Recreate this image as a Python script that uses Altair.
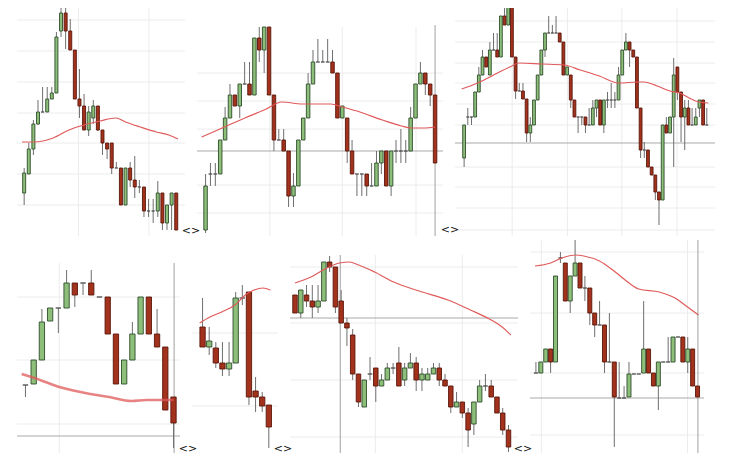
import altair as alt
import pandas as pd

# ---------------- Panel 1 ----------------
p1_open  = [40, 59, 84, 109, 121, 121, 134, 140, 202, 220, 202, 183, 134, 127, 103, 115, 127, 103, 90, 90, 65, 65, 28, 65, 53, 46, 46, 22, 22, 22, 40, 10, 28, 40]
p1_high  = [65, 90, 113, 133, 146, 146, 146, 201, 226, 226, 214, 183, 164, 139, 127, 133, 127, 103, 90, 90, 71, 65, 65, 71, 77, 53, 46, 34, 34, 52, 40, 28, 40, 40]
p1_low   = [28, 59, 78, 108, 121, 121, 134, 140, 196, 184, 183, 134, 115, 103, 97, 109, 102, 78, 74, 59, 65, 28, 28, 46, 35, 40, 16, 16, 10, 16, 3, 3, 3, 3]
p1_close = [60, 84, 109, 121, 121, 134, 140, 196, 220, 202, 183, 134, 127, 103, 121, 127, 103, 90, 84, 65, 65, 28, 65, 53, 46, 46, 22, 22, 22, 40, 10, 28, 40, 3]
p1_ma_i  = [0.53, 3.18, 7.27, 10.7, 14.0, 17.5, 20.9, 23.0, 26.2, 29.7, 32.4, 34.4]
p1_ma_v  = [91, 91, 95, 103, 108, 112, 115, 111, 106, 101, 98, 94]
p1_hgrid = [213, 182, 151, 120, 90, 59, 28]
p1_vgrid = [12.78, 28.08]

# ---------------- Panel 2 ----------------
p2_open  = [3, 59, 59, 59, 93, 115, 138, 127, 149, 149, 138, 195, 183, 206, 138, 93, 93, 82, 37, 47, 93, 115, 149, 171, 171, 171, 171, 160, 115, 115, 82, 59, 59, 59, 47, 47, 70, 82, 47, 82, 82, 82, 82, 115, 149, 160, 149, 138]
p2_high  = [59, 70, 70, 93, 126, 149, 138, 149, 171, 171, 195, 206, 206, 206, 138, 104, 104, 82, 60, 93, 115, 160, 183, 194, 183, 194, 183, 160, 127, 115, 93, 59, 59, 59, 70, 82, 82, 82, 82, 93, 104, 93, 126, 149, 171, 160, 149, 138]
p2_low   = [0, 47, 47, 59, 93, 115, 127, 115, 149, 138, 138, 171, 160, 138, 82, 93, 82, 26, 26, 47, 93, 115, 149, 171, 171, 171, 160, 115, 115, 70, 59, 37, 37, 37, 47, 47, 59, 47, 37, 70, 70, 70, 82, 115, 149, 138, 127, 70]
p2_close = [47, 59, 59, 93, 115, 138, 127, 149, 149, 138, 195, 183, 206, 138, 93, 93, 82, 37, 47, 93, 115, 149, 171, 171, 171, 171, 160, 115, 127, 82, 59, 59, 59, 47, 47, 70, 82, 47, 82, 82, 82, 82, 115, 149, 160, 149, 138, 70]
p2_ma_i  = [0.21, 4.4, 9.05, 13.0, 16.6, 20.8, 26.7, 29.0, 32.6, 37.2, 41.1, 43.1, 45.7, 48.0]
p2_ma_v  = [96, 105, 115, 123, 131, 129, 129, 126, 121, 113, 107, 105, 105, 106]
p2_hgrid = [160, 132, 104, 48, 20]
p2_vgrid = [14.16, 29.0, 44.1]
p2_ref_h = [82]
p2_ref_v = [48.0]

# ---------------- Panel 3 ----------------
p3_open  = [75, 116, 116, 116, 141, 158, 176, 158, 183, 183, 176, 217, 208, 226, 176, 142, 142, 134, 100, 108, 133, 158, 183, 200, 200, 200, 200, 191, 158, 158, 133, 116, 116, 116, 108, 108, 125, 133, 108, 133, 133, 133, 133, 158, 183, 191, 183, 176, 125, 83, 83, 66, 58, 41, 33, 108, 100, 116, 166, 141, 116, 125, 108, 108, 125, 133, 108]
p3_high  = [108, 125, 116, 141, 166, 183, 176, 191, 200, 200, 217, 225, 226, 226, 176, 150, 150, 134, 116, 133, 158, 183, 200, 217, 208, 217, 200, 191, 166, 158, 133, 116, 116, 116, 125, 133, 133, 133, 133, 141, 150, 141, 166, 183, 200, 191, 183, 176, 125, 91, 83, 66, 58, 41, 108, 116, 116, 175, 166, 141, 133, 133, 125, 125, 133, 133, 125]
p3_low   = [66, 108, 108, 116, 141, 158, 166, 158, 183, 176, 176, 208, 208, 176, 134, 142, 134, 91, 91, 108, 133, 158, 176, 200, 200, 200, 191, 158, 158, 125, 116, 100, 108, 100, 108, 108, 116, 108, 100, 125, 125, 125, 133, 158, 183, 166, 176, 125, 75, 75, 66, 58, 33, 8, 33, 100, 100, 66, 133, 91, 83, 108, 108, 108, 116, 108, 108]
p3_close = [108, 116, 116, 141, 158, 176, 166, 183, 183, 176, 217, 208, 226, 176, 142, 142, 134, 100, 108, 133, 158, 183, 200, 200, 200, 200, 191, 158, 166, 133, 116, 116, 116, 108, 108, 125, 133, 108, 133, 133, 133, 133, 158, 183, 191, 183, 176, 125, 83, 83, 66, 58, 41, 33, 108, 100, 116, 158, 141, 116, 125, 108, 108, 116, 133, 108, 108]
p3_ma_i  = [0.32, 4.66, 9.03, 13.4, 16.0, 22.1, 28.2, 32.6, 37.8, 43.0, 48.3, 50.0, 53.5, 57.0, 59.6, 62.2, 64.8, 67.4]
p3_ma_v  = [144, 150, 158, 166, 170, 169, 168, 163, 157, 150, 151, 151, 147, 142, 140, 135, 131, 130]
p3_hgrid = [212, 191, 170, 150, 129, 108, 66, 46, 25, 3]
p3_vgrid = [14.07, 29.09, 43.89, 58.9]
p3_ref_h = [90]

# ---------------- Panel 4 ----------------
p4_open  = [68, 69, 93, 132, 145, 145, 170, 170, 170, 156, 156, 119, 69, 93, 119, 156, 119, 106, 56]
p4_high  = [68, 93, 144, 145, 145, 183, 170, 170, 183, 156, 156, 119, 93, 131, 156, 156, 144, 106, 56]
p4_low   = [56, 69, 93, 132, 120, 145, 146, 158, 158, 156, 119, 69, 69, 93, 119, 119, 106, 43, 5]
p4_close = [68, 93, 131, 145, 145, 170, 158, 170, 158, 156, 119, 69, 93, 119, 156, 119, 106, 43, 30]
p4_ma_i  = [0.54, 2.44, 5.11, 8.91, 11.2, 13.85, 15.76, 17.67, 19.0]
p4_ma_v  = [79, 74, 66, 59, 56, 52, 53, 53, 53]
p4_hgrid = [156, 93, 29]
p4_vgrid = [5.11]
p4_ref_h = [17]
p4_ref_v = [19.07]

# ---------------- Panel 5 ----------------
p5_open  = [126, 106, 105, 90, 84, 90, 155, 161, 62, 56, 48]
p5_high  = [155, 126, 111, 111, 111, 161, 168, 161, 76, 61, 48]
p5_low   = [106, 98, 85, 77, 77, 90, 148, 48, 41, 41, 5]
p5_close = [106, 112, 90, 84, 90, 155, 155, 56, 56, 47, 26]
p5_ma_i  = [0.56, 2.12, 3.89, 5.89, 7.45, 8.79, 10.12, 11.23]
p5_ma_v  = [130, 136, 141, 148, 158, 163, 165, 163]
p5_hgrid = [120, 47]

# ---------------- Panel 6 ----------------
p6_open  = [158, 140, 158, 152, 146, 152, 191, 186, 152, 130, 118, 79, 46, 79, 85, 67, 73, 85, 90, 73, 85, 90, 73, 73, 79, 85, 73, 67, 46, 51, 40, 29, 51, 67, 67, 56, 40, 23]
p6_high  = [158, 163, 168, 168, 168, 191, 197, 186, 163, 135, 124, 79, 73, 96, 85, 79, 90, 90, 106, 90, 100, 96, 85, 85, 90, 90, 79, 67, 61, 51, 45, 51, 73, 79, 73, 56, 45, 28]
p6_low   = [140, 135, 146, 135, 140, 152, 181, 140, 130, 107, 73, 46, 46, 73, 51, 67, 73, 79, 67, 67, 85, 62, 62, 73, 79, 67, 67, 40, 46, 35, 6, 18, 51, 62, 56, 40, 18, 1]
p6_close = [140, 163, 152, 146, 152, 191, 186, 146, 130, 125, 79, 51, 73, 79, 67, 73, 85, 85, 67, 85, 90, 73, 79, 79, 85, 73, 67, 46, 51, 40, 23, 51, 67, 67, 56, 40, 23, 6]
p6_ma_i  = [1.0, 3.77, 6.52, 8.74, 10.4, 12.05, 14.8, 18.1, 22.5, 27.5, 31.4, 34.7, 36.9, 38.4]
p6_ma_v  = [170, 176, 185, 190, 191, 188, 181, 171, 162, 153, 143, 134, 126, 118]
p6_hgrid = [186, 130, 73, 16]
p6_vgrid = [14.92, 29.99]
p6_ref_h = [135]
p6_ref_v = [8.84]

# ---------------- Panel 7 ----------------
p7_open  = [80, 80, 91, 104, 91, 195, 190, 152, 177, 190, 165, 165, 140, 128, 128, 91, 91, 55, 55, 56, 79, 79, 80, 104, 80, 67, 91, 91, 91, 116, 116, 91, 104, 67]
p7_high  = [91, 91, 104, 104, 177, 201, 190, 177, 213, 190, 177, 165, 140, 152, 128, 140, 91, 91, 67, 91, 79, 79, 152, 104, 80, 91, 91, 116, 116, 116, 116, 116, 104, 67]
p7_low   = [80, 80, 91, 80, 91, 190, 152, 140, 177, 165, 152, 128, 116, 128, 80, 91, 6, 55, 55, 56, 79, 79, 80, 80, 67, 43, 91, 91, 91, 116, 91, 80, 67, 56]
p7_close = [80, 91, 104, 91, 177, 195, 152, 177, 190, 165, 165, 140, 128, 128, 91, 91, 56, 55, 55, 79, 79, 79, 104, 80, 67, 91, 91, 91, 116, 116, 91, 104, 67, 56]
p7_ma_i  = [0.81, 4.0, 6.26, 9.15, 10.77, 13.97, 17.2, 19.75, 22.0, 26.2, 29.4, 31.96, 34.2]
p7_ma_v  = [187, 190, 195, 198, 197, 192, 181, 171, 164, 161, 155, 146, 138]
p7_hgrid = [201, 140, 80, 18]
p7_vgrid = [2.1, 31.96]
p7_ref_h = [55]
p7_ref_v = [34.08]

GREEN, RED, FLAT = "#8dbf7a", "#a3321d", "#666666"
GREEN_S, RED_S = "#2e4d2a", "#5a160b"


def panel(o, h, l, c, ma_i, ma_v, xdom, ydom, w, ht, bw, hgrid=(), vgrid=(), grid_top=None,
          ref_h=(), ref_v=(), ref_top=None, ma_w=1.2, ma_op=1.0, marker_x=None, marker_y=None):
    n = len(o)
    df = pd.DataFrame({"i": list(range(1, n + 1)), "o": o, "h": h, "l": l, "c": c})
    df["dir"] = ["up" if cc > oo else ("down" if cc < oo else "flat") for oo, cc in zip(o, c)]
    xs = alt.Scale(domain=xdom, nice=False, zero=False)
    ys = alt.Scale(domain=ydom, nice=False, zero=False)
    layers = []
    if len(hgrid):
        layers.append(alt.Chart(pd.DataFrame({"v": list(hgrid)})).mark_rule(
            color="#ececec", strokeWidth=1, clip=True).encode(
            y=alt.Y("v:Q", scale=ys, axis=None), x=alt.value(0), x2=alt.value(w)))
    if len(vgrid):
        gt = grid_top if grid_top is not None else ydom[1]
        layers.append(alt.Chart(pd.DataFrame({"i": list(vgrid), "y0": [ydom[0]] * len(vgrid), "y1": [gt] * len(vgrid)})).mark_rule(
            color="#ececec", strokeWidth=1, clip=True).encode(
            x=alt.X("i:Q", scale=xs, axis=None), y=alt.Y("y0:Q", scale=ys, axis=None), y2="y1:Q"))
    if len(ref_h):
        layers.append(alt.Chart(pd.DataFrame({"v": list(ref_h)})).mark_rule(
            color="#a9a9a9", strokeWidth=1, clip=True).encode(
            y=alt.Y("v:Q", scale=ys, axis=None), x=alt.value(0), x2=alt.value(w)))
    if len(ref_v):
        rt = ref_top if ref_top is not None else ydom[1]
        layers.append(alt.Chart(pd.DataFrame({"i": list(ref_v), "y0": [ydom[0]] * len(ref_v), "y1": [rt] * len(ref_v)})).mark_rule(
            color="#a0a0a0", strokeWidth=1, clip=True).encode(
            x=alt.X("i:Q", scale=xs, axis=None), y=alt.Y("y0:Q", scale=ys, axis=None), y2="y1:Q"))
    base = alt.Chart(df)
    layers.append(base.mark_rule(color="#6e6e6e", strokeWidth=1, clip=True).encode(
        x=alt.X("i:Q", scale=xs, axis=None), y=alt.Y("l:Q", scale=ys, axis=None), y2="h:Q"))
    layers.append(base.mark_bar(size=bw, strokeWidth=0.9, clip=True).encode(
        x=alt.X("i:Q", scale=xs, axis=None),
        y=alt.Y("o:Q", scale=ys, axis=None), y2="c:Q",
        color=alt.Color("dir:N", scale=alt.Scale(domain=["up", "down", "flat"], range=[GREEN, RED, FLAT]), legend=None),
        stroke=alt.Stroke("dir:N", scale=alt.Scale(domain=["up", "down", "flat"], range=[GREEN_S, RED_S, "#555555"]), legend=None)))
    layers.append(alt.Chart(pd.DataFrame({"i": ma_i, "v": ma_v})).mark_line(
        color="#e05a5a", strokeWidth=ma_w, opacity=ma_op, interpolate="monotone", clip=True).encode(
        x=alt.X("i:Q", scale=xs, axis=None), y=alt.Y("v:Q", scale=ys, axis=None)))
    if marker_x is not None:
        layers.append(alt.Chart(pd.DataFrame({"t": ["<>"]})).mark_text(
            fontSize=11, font="DejaVu Sans", color="#111111", baseline="middle", align="center").encode(
            text="t:N", x=alt.value(marker_x), y=alt.value(marker_y)))
    return alt.layer(*layers).properties(width=w, height=ht)


# row 1: values 0..225 over the upper 225 px, extra 3 px below for the markers
R1, R2 = [-3, 225], [0, 213]
H1, H2 = 228, 213
p1 = panel(p1_open, p1_high, p1_low, p1_close, p1_ma_i, p1_ma_v, [0.53, 34.82], R1, 168, H1, 3,
           hgrid=p1_hgrid, vgrid=p1_vgrid)
p2 = panel(p2_open, p2_high, p2_low, p2_close, p2_ma_i, p2_ma_v, [0.27, 48.6], R1, 246, H1, 3.5,
           hgrid=p2_hgrid, vgrid=p2_vgrid, grid_top=206, ref_h=p2_ref_h, ref_v=p2_ref_v, ref_top=208,
           marker_x=-6, marker_y=223)
p3 = panel(p3_open, p3_high, p3_low, p3_close, p3_ma_i, p3_ma_v, [-0.12, 67.87], R1, 260, H1, 2.8,
           hgrid=p3_hgrid, vgrid=p3_vgrid, ref_h=p3_ref_h, marker_x=-5, marker_y=222)
p4 = panel(p4_open, p4_high, p4_low, p4_close, p4_ma_i, p4_ma_v, [0.58, 19.18], R2, 163, H2, 5.3,
           hgrid=p4_hgrid, vgrid=p4_vgrid, grid_top=190, ref_h=p4_ref_h, ref_v=p4_ref_v, ref_top=190,
           ma_w=2.6, ma_op=0.75)
p5 = panel(p5_open, p5_high, p5_low, p5_close, p5_ma_i, p5_ma_v, [0.16, 11.63], R2, 86, H2, 5.3,
           hgrid=p5_hgrid, marker_x=-4, marker_y=209)
p6 = panel(p6_open, p6_high, p6_low, p6_close, p6_ma_i, p6_ma_v, [1.0, 38.78], R2, 228, H2, 4.5,
           hgrid=p6_hgrid, vgrid=p6_vgrid, grid_top=198, ref_h=p6_ref_h, ref_v=p6_ref_v, ref_top=198,
           marker_x=-7, marker_y=209)
p7 = panel(p7_open, p7_high, p7_low, p7_close, p7_ma_i, p7_ma_v, [0.81, 34.3], R2, 174, H2, 4,
           hgrid=p7_hgrid, vgrid=p7_vgrid, ref_h=p7_ref_h, ref_v=p7_ref_v,
           marker_x=-7, marker_y=209)

row1 = alt.hconcat(p1, p2, p3, spacing=12, bounds="flush")
row2 = alt.hconcat(p4, p5, p6, p7, spacing=12, bounds="flush")
chart = alt.vconcat(row1, row2, spacing=4).properties(
    padding={"left": 9, "top": 0, "right": 0, "bottom": 0}
).configure(background="white").configure_view(stroke=None)

chart.save("out.html", embed_options={"renderer": "svg", "actions": False})
